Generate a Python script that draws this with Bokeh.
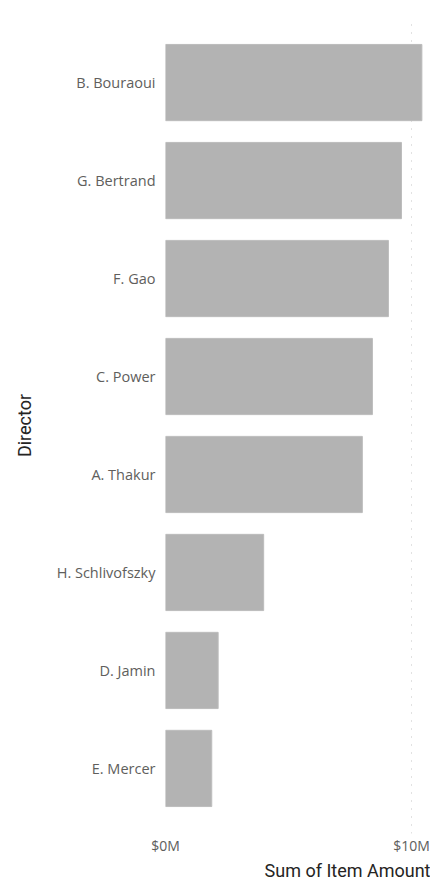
from bokeh.plotting import figure
from bokeh.models import FactorRange, Range1d, FixedTicker, Title
from bokeh.embed import file_html
from bokeh.resources import INLINE

directors = ["B. Bouraoui", "G. Bertrand", "F. Gao", "C. Power", "A. Thakur",
             "H. Schlivofszky", "D. Jamin", "E. Mercer"]
amounts_m = [10.42, 9.59, 9.06, 8.41, 8.00, 3.99, 2.14, 1.88]
x_ticks = [0, 10]
x_tick_labels = ["$0M", "$10M"]

factors = directors[::-1]

p = figure(width=430, height=880,
           y_range=FactorRange(factors=factors, range_padding=0.164,
                               range_padding_units="absolute"),
           x_range=Range1d(0, 10.77),
           output_backend="svg", toolbar_location=None,
           min_border_left=165, min_border_right=0, min_border_top=17,
           min_border_bottom=46)

p.hbar(y=directors, right=amounts_m, height=0.778,
       fill_color="#b3b3b3", line_color="#bcbcbc", line_width=1)

p.outline_line_color = None
p.background_fill_color = "white"
p.border_fill_color = "white"

p.xgrid.ticker = FixedTicker(ticks=x_ticks)
p.xgrid.grid_line_color = "#c4c4c4"
p.xgrid.grid_line_dash = "1 7"
p.xgrid.grid_line_width = 1
p.ygrid.grid_line_color = None

xa = p.xaxis[0]
xa.ticker = FixedTicker(ticks=x_ticks)
xa.major_label_overrides = {t: l for t, l in zip(x_ticks, x_tick_labels)}
xa.axis_line_color = None
xa.major_tick_line_color = None
xa.minor_tick_line_color = None
xa.major_tick_in = 0
xa.major_tick_out = 0
xa.minor_tick_in = 0
xa.minor_tick_out = 0
xa.axis_label_standoff = 0
xa.major_label_text_font = "Open Sans"
xa.major_label_text_font_size = "14px"
xa.major_label_text_color = "#605e5c"
xa.major_label_standoff = 2

ya = p.yaxis[0]
ya.axis_line_color = None
ya.major_tick_line_color = None
ya.minor_tick_line_color = None
ya.major_tick_in = 0
ya.major_tick_out = 0
ya.minor_tick_in = 0
ya.minor_tick_out = 0
ya.major_label_text_font = "Open Sans"
ya.major_label_text_font_size = "14.5px"
ya.major_label_text_color = "#605e5c"
ya.major_label_standoff = 10
ya.axis_label = "Director"
ya.axis_label_text_font = "Roboto"
ya.axis_label_text_font_size = "18px"
ya.axis_label_text_font_style = "normal"
ya.axis_label_text_color = "#252423"
ya.axis_label_standoff = 19

t = Title(text="Sum of Item Amount", align="right", text_font="Roboto",
          text_font_size="18px", text_font_style="normal",
          text_color="#252423", standoff=0, offset=0)
p.add_layout(t, "below")

open("out.html", "w").write(file_html(p, INLINE))
